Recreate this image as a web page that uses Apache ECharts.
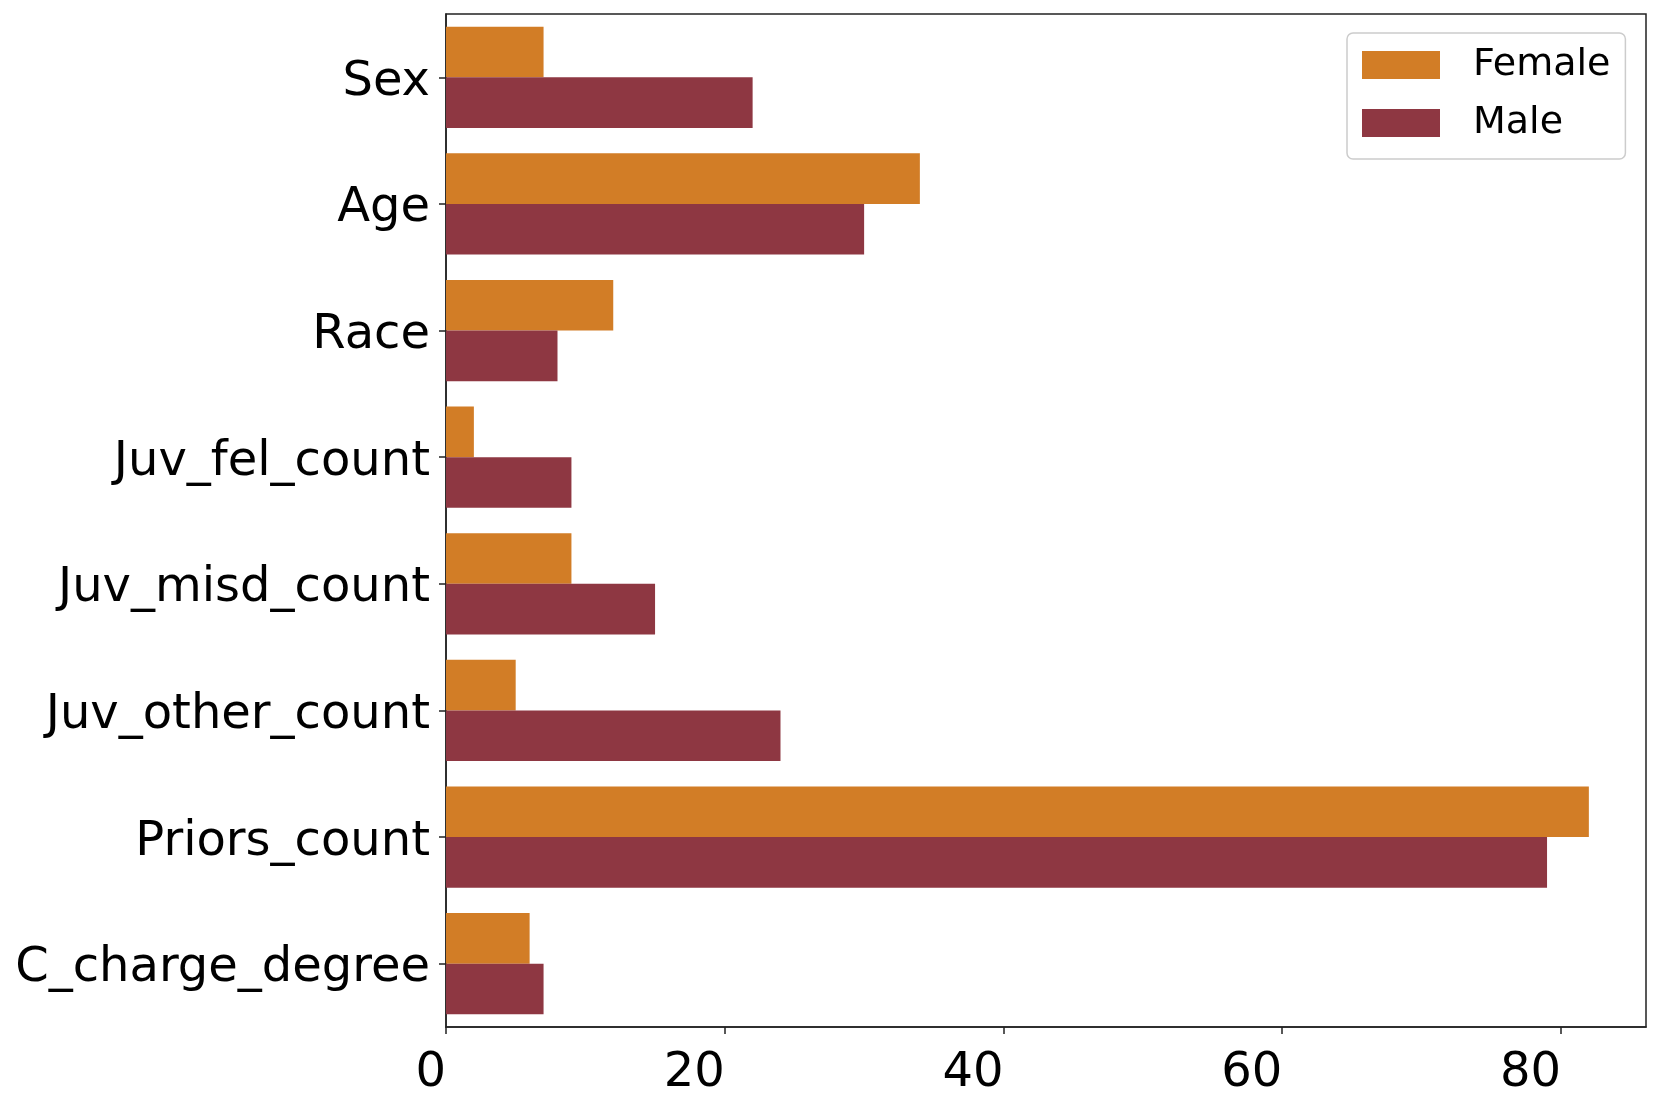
<!DOCTYPE html>
<html>
<head>
<meta charset="utf-8">
<script src="https://cdn.jsdelivr.net/npm/echarts@6/dist/echarts.min.js"></script>
<style>html,body{margin:0;padding:0;background:#fff}#c{width:1660px;height:1102px}</style>
</head>
<body>
<div id="c"></div>
<script>
const categories = ['Sex','Age','Race','Juv_fel_count','Juv_misd_count','Juv_other_count','Priors_count','C_charge_degree'];
const femaleValues = [7, 34, 12, 2, 9, 5, 82, 6];
const maleValues = [22, 30, 8, 9, 15, 24, 79, 7];
const xTicks = [0, 20, 40, 60, 80];
const seriesNames = ['Female', 'Male'];

const FONT = 'DejaVu Sans';
const chart = echarts.init(document.getElementById('c'), null, {renderer: 'canvas'});
chart.setOption({
  animation: false,
  backgroundColor: '#ffffff',
  grid: {left: 446, right: 14, top: 14, bottom: 75, show: true, borderColor: '#222', borderWidth: 1.5, backgroundColor: 'transparent'},
  legend: {
    data: seriesNames,
    orient: 'vertical',
    left: 1347, top: 33,
    padding: [13, 15, 17, 15],
    itemWidth: 78, itemHeight: 28, itemGap: 20,
    borderColor: '#cccccc', borderWidth: 1.5, borderRadius: 6,
    backgroundColor: '#ffffff',
    icon: 'rect',
    textStyle: {fontFamily: FONT, fontSize: 38, color: '#000', padding: [0, 0, 0, 28]}
  },
  xAxis: {
    type: 'value', min: 0, max: 86.1, interval: 20,
    splitLine: {show: false},
    axisLine: {show: true, onZero: false, lineStyle: {color: '#222', width: 1.5}},
    axisTick: {show: true, length: 7, lineStyle: {color: '#222', width: 1.5}},
    axisLabel: {
      fontFamily: FONT, fontSize: 48, color: '#000', margin: 23, showMaxLabel: false, align: 'right',
      formatter: v => xTicks.includes(v) ? String(v) : ''
    }
  },
  yAxis: {
    type: 'category', data: categories, inverse: true,
    axisLine: {show: true, lineStyle: {color: '#222', width: 1.5}},
    axisTick: {show: true, alignWithLabel: true, length: 7, lineStyle: {color: '#222', width: 1.5}},
    axisLabel: {
      margin: 16,
      formatter: v => '{a|' + v + '}',
      rich: {a: {fontFamily: FONT, fontSize: 48, color: '#000', padding: [10, 0, 0, 0]}}
    }
  },
  series: [
    {name: seriesNames[0], type: 'bar', data: femaleValues, barGap: '0%', barCategoryGap: '20%', itemStyle: {color: '#D27D26'}},
    {name: seriesNames[1], type: 'bar', data: maleValues, barGap: '0%', barCategoryGap: '20%', itemStyle: {color: '#8E3742'}}
  ]
});
</script>
</body>
</html>
